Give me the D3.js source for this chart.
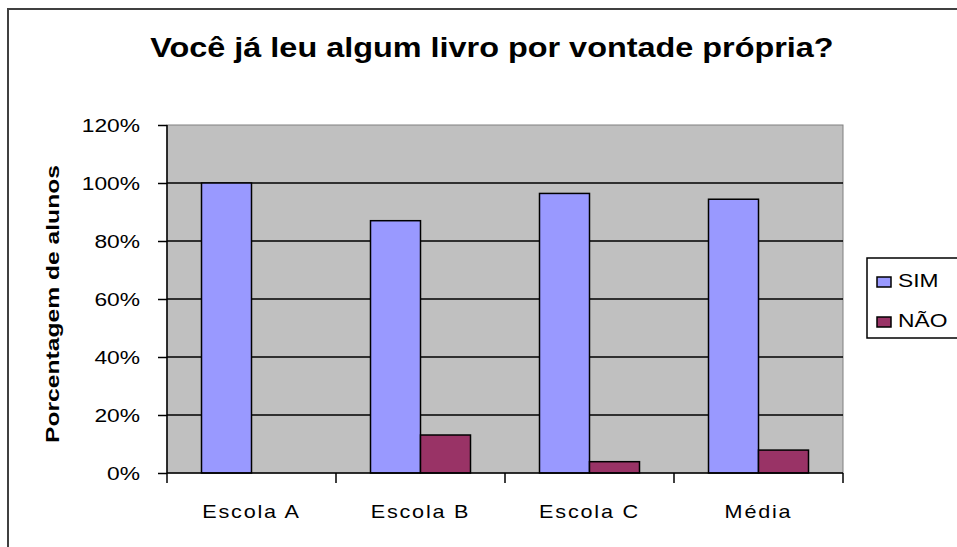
<!DOCTYPE html>
<html>
<head>
<meta charset="utf-8">
<script src="https://cdn.jsdelivr.net/npm/d3@7"></script>
<style>
  body { margin: 0; background: #fff; }
  svg { display: block; font-family: "Liberation Sans", Arial, sans-serif; }
</style>
</head>
<body>
<svg id="chart" width="957" height="547"></svg>
<script>
let categories = ["Escola A", "Escola B", "Escola C", "Média"];
let seriesNames = ["SIM", "NÃO"];
let simValues = [100, 87, 96.4, 94.4];
let naoValues = [0, 13.1, 3.9, 7.9];
let yTicks = [0, 20, 40, 60, 80, 100, 120];

let colors = ["#9999ff", "#993366"];
// the original picture is a bit stretched sideways, so text is too
let sx = 1.2;

let svg = d3.select("#chart");

// outer chart border
svg.append("rect")
    .attr("x", 8).attr("y", 9)
    .attr("width", 960).attr("height", 545)
    .attr("fill", "none")
    .attr("stroke", "#404040")
    .attr("stroke-width", 2);

let margin = {top: 125, left: 167};
let width = 843 - 167;
let height = 473 - 125;
let g = svg.append("g").attr("transform", "translate(" + margin.left + "," + margin.top + ")");

let x0 = d3.scaleBand().domain(categories).range([0, width]);
let x1 = d3.scaleBand().domain(seriesNames).range([0, 100]);
let y = d3.scaleLinear().domain([0, 120]).range([height, 0]);

// plot area
g.append("rect")
    .attr("width", width).attr("height", height)
    .attr("fill", "#c0c0c0")
    .attr("stroke", "#808080")
    .attr("stroke-width", 1);

// gridlines
g.append("g")
    .selectAll("line")
    .data(yTicks.slice(1, -1))
    .enter().append("line")
    .attr("x1", 0).attr("x2", width)
    .attr("y1", d => y(d)).attr("y2", d => y(d))
    .attr("stroke", "#000").attr("stroke-width", 1.5);

let data = categories.map((c, i) => ({cat: c, values: [
    {key: "SIM", value: simValues[i]},
    {key: "NÃO", value: naoValues[i]}
]}));

g.append("g")
    .selectAll("g")
    .data(data)
    .enter().append("g")
    .attr("transform", d => "translate(" + (x0(d.cat) + (x0.bandwidth() - 100) / 2) + ",0)")
    .selectAll("rect")
    .data(d => d.values.filter(v => v.value > 0))
    .enter().append("rect")
    .attr("x", d => x1(d.key))
    .attr("y", d => y(d.value))
    .attr("width", x1.bandwidth())
    .attr("height", d => height - y(d.value))
    .attr("fill", d => colors[seriesNames.indexOf(d.key)])
    .attr("stroke", "#000")
    .attr("stroke-width", 1.5);

// y axis
let yAxis = g.append("g")
    .call(d3.axisLeft(y).tickValues(yTicks).tickSize(9).tickFormat(d => d + "%"));
yAxis.select(".domain").attr("stroke", "#000").attr("stroke-width", 1.5).attr("d", "M0," + height + "V0");
yAxis.selectAll(".tick line").attr("stroke", "#000").attr("stroke-width", 1.5);
yAxis.selectAll("text")
    .attr("font-size", 19).attr("fill", "#000")
    .attr("font-family", "Liberation Sans, Arial, sans-serif")
    .attr("x", -27 / sx)
    .attr("dy", "0.36em")
    .attr("transform", "scale(" + sx + ",1)");

// x axis
let xAxis = g.append("g")
    .attr("transform", "translate(0," + height + ")")
    .call(d3.axisBottom(x0).tickSize(0));
xAxis.select(".domain").attr("stroke", "#000").attr("stroke-width", 1.5).attr("d", "M0,0H" + width);
xAxis.selectAll("text")
    .attr("font-size", 18).attr("fill", "#000")
    .attr("letter-spacing", "1.5px")
    .attr("font-family", "Liberation Sans, Arial, sans-serif")
    .attr("y", 45).attr("dy", 0)
    .attr("transform", "scale(" + sx + ",1)");
xAxis.append("g")
    .selectAll("line")
    .data(d3.range(categories.length + 1))
    .enter().append("line")
    .attr("x1", i => i * x0.bandwidth()).attr("x2", i => i * x0.bandwidth())
    .attr("y1", 0).attr("y2", 10)
    .attr("stroke", "#000").attr("stroke-width", 1.5);

// title
svg.append("g")
    .attr("transform", "translate(492,57) scale(" + sx + ",1)")
    .append("text")
    .attr("text-anchor", "middle")
    .attr("font-size", 27)
    .attr("font-weight", "bold")
    .text("Você já leu algum livro por vontade própria?");

// y label
svg.append("text")
    .attr("transform", "translate(59," + 304 + ") rotate(-90)")
    .attr("text-anchor", "middle")
    .attr("font-size", 19)
    .attr("font-weight", "bold")
    .attr("textLength", 278)
    .attr("lengthAdjust", "spacingAndGlyphs")
    .text("Porcentagem de alunos");

// legend
let legend = svg.append("g").attr("transform", "translate(867,258)");
legend.append("rect")
    .attr("width", 100).attr("height", 80)
    .attr("fill", "#fff")
    .attr("stroke", "#000").attr("stroke-width", 1.5);
let items = legend.selectAll("g.item")
    .data(seriesNames)
    .enter().append("g")
    .attr("class", "item")
    .attr("transform", (d, i) => "translate(10," + (29 + i * 40) + ")");
items.append("rect")
    .attr("x", 0).attr("y", -10)
    .attr("width", 14).attr("height", 10)
    .attr("fill", (d, i) => colors[i])
    .attr("stroke", "#000").attr("stroke-width", 1.5);
items.append("text")
    .attr("transform", "translate(21,0) scale(" + sx + ",1)")
    .attr("font-size", 19)
    .text(d => d);
</script>
</body>
</html>
